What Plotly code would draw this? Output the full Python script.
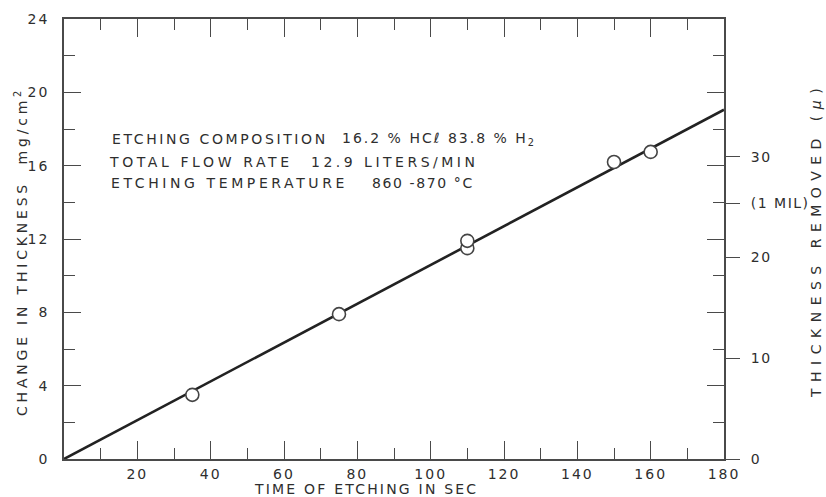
import plotly.graph_objects as go

# Etching measurements: time (s) vs change in thickness (mg/cm^2)
time_s = [35, 75, 110, 110, 150, 160]
change_mg = [3.5, 7.9, 11.5, 11.9, 16.2, 16.75]

# Straight-line fit through the origin
fit_time = [0, 180]
fit_change = [0, 19.05]

x_ticks = [20, 40, 60, 80, 100, 120, 140, 160, 180]
y_ticks = [0, 4, 8, 12, 16, 20, 24]
removed_ticks = [0, 10, 20, 25.4, 30]
removed_labels = ["0", "10", "20", "(1 MIL)", "30"]

notes_left = ["ETCHING COMPOSITION", "TOTAL FLOW RATE", "ETCHING TEMPERATURE"]
notes_right = ["16.2 % HCℓ 83.8 % H<sub>2</sub>", "12.9 LITERS/MIN", "860 -870 °C"]

INK = "#2e2e2e"
AXIS = "#4a4a4a"
FONT = "DejaVu Sans"

# plot-area geometry used to place paper-referenced notes
PLOT_L, PLOT_W = 64, 660
PLOT_B, PLOT_H = 459, 440


def spaced(text, px=2.5):
    return f'<span style="letter-spacing:{px}px">{text}</span>'


def px_x(px):
    return (px - PLOT_L) / PLOT_W


def px_y(py):
    return (PLOT_B - py) / PLOT_H


fig = go.Figure()

fig.add_trace(go.Scatter(
    x=fit_time, y=fit_change, mode="lines",
    line=dict(color="#222222", width=2.6),
    hoverinfo="skip", showlegend=False,
))
fig.add_trace(go.Scatter(
    x=time_s, y=change_mg, mode="markers",
    marker=dict(symbol="circle", size=13, color="white",
                line=dict(color="#444444", width=1.6)),
    showlegend=False,
))
# invisible trace to anchor the secondary (microns) axis
fig.add_trace(go.Scatter(
    x=[0], y=[0], yaxis="y2", mode="markers",
    marker=dict(opacity=0), hoverinfo="skip", showlegend=False,
))

tick_font = dict(family=FONT, size=14, color=INK)

fig.update_layout(
    width=826, height=497,
    margin=dict(l=PLOT_L, r=826 - PLOT_L - PLOT_W, t=PLOT_B - PLOT_H,
                b=497 - PLOT_B),
    paper_bgcolor="white", plot_bgcolor="white",
    font=dict(family=FONT, size=14, color=INK),
    xaxis=dict(
        range=[0, 180], tickmode="array", tickvals=x_ticks,
        ticktext=[spaced(str(v), 2) for v in x_ticks],
        ticks="inside", ticklen=18, tickwidth=1.4, tickcolor=AXIS,
        minor=dict(tickmode="linear", tick0=0, dtick=10, ticks="inside",
                   ticklen=11, tickwidth=1.4, tickcolor=AXIS),
        showline=True, linecolor=AXIS, linewidth=1.6, mirror="ticks",
        showgrid=False, zeroline=False, tickfont=tick_font,
        ticklabelstandoff=1,
    ),
    yaxis=dict(
        range=[0, 24], tickmode="array", tickvals=y_ticks,
        ticktext=[spaced(str(v), 2) for v in y_ticks],
        ticks="inside", ticklen=17, tickwidth=1.4, tickcolor=AXIS,
        minor=dict(tickmode="linear", tick0=0, dtick=2, ticks="inside",
                   ticklen=11, tickwidth=1.4, tickcolor=AXIS),
        showline=True, linecolor=AXIS, linewidth=1.6, mirror="ticks",
        showgrid=False, zeroline=False, tickfont=tick_font,
        ticklabelstandoff=10,
    ),
    yaxis2=dict(
        overlaying="y", side="right", range=[0, 43.66],
        tickmode="array", tickvals=removed_ticks,
        ticktext=[spaced(t, 1.5) for t in removed_labels],
        ticks="outside", ticklen=15, tickwidth=1.4, tickcolor=AXIS,
        showline=False, showgrid=False, zeroline=False,
        tickfont=tick_font, ticklabelstandoff=8,
    ),
)

annotations = [
    dict(text=spaced("CHANGE IN THICKNESS  mg/cm<sup>2</sup>", 3.8),
         x=px_x(21), y=px_y(252), textangle=-90),
    dict(text=spaced("THICKNESS REMOVED (<i>μ</i>)", 6.5),
         x=px_x(816), y=px_y(240), textangle=-90),
    dict(text=spaced("TIME OF ETCHING IN SEC", 2.2),
         x=px_x(366), y=px_y(488.5)),
]
# notes block: centre of each text segment (px) and its letter spacing
line_py = [139, 162, 182.5]
left_cx = [220, 201, 229.5]
left_sp = [2.6, 3.6, 3.6]
right_cx = [438.5, 394.5, 423]
right_sp = [2.0, 3.5, 1.6]
for i in range(3):
    annotations.append(dict(text=spaced(notes_left[i], left_sp[i]),
                            x=px_x(left_cx[i]), y=px_y(line_py[i])))
    annotations.append(dict(text=spaced(notes_right[i], right_sp[i]),
                            x=px_x(right_cx[i]), y=px_y(line_py[i])))

for a in annotations:
    a.update(xref="paper", yref="paper", xanchor="center", yanchor="middle",
             showarrow=False, font=dict(family=FONT, size=14, color=INK))
fig.update_layout(annotations=annotations)

fig.write_html("out.html")
